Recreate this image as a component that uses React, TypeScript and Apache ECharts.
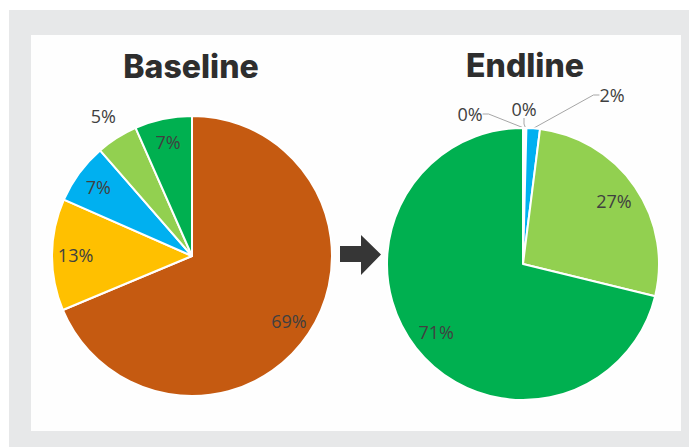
import React, { useEffect, useRef } from "react";
import * as echarts from "echarts";

const categories = ["Orange", "Yellow", "Blue", "Light green", "Green"];
const colors = ["#C55A11", "#FFC000", "#00B0F0", "#92D050", "#00B050"];
const baselineValues = [68.7, 12.9, 7.0, 4.8, 6.6];
const endlineValues = [0.2, 0.2, 1.6, 26.8, 71.2];
const titles = ["Baseline", "Endline"];

const W = 694;
const H = 447;
const BASE_C = [192, 256];
const BASE_R = 140;
const END_C = [523, 264];
const END_R = 136;

const LABEL_FONT = { fontFamily: "Open Sans", fontSize: 18, color: "#404040" };
const pct = (p: any) => Math.round(p.value) + "%";

function buildData(values: number[], showIdx: number[] | null) {
  return values.map((v, i) => ({
    name: categories[i],
    value: v,
    itemStyle: { color: colors[i] },
    label: { show: showIdx ? showIdx.includes(i) : false },
    labelLine: { show: showIdx ? showIdx.includes(i) : false },
  }));
}

function labelPie(center: number[], r0: number, r1: number, values: number[], showIdx: number[]) {
  return {
    type: "pie",
    center,
    radius: [r0, r1],
    startAngle: 90,
    clockwise: true,
    silent: true,
    avoidLabelOverlap: false,
    itemStyle: { color: "transparent", borderWidth: 0 },
    label: { show: true, position: "inside", formatter: pct, ...LABEL_FONT },
    labelLine: { show: false },
    emphasis: { disabled: true },
    data: values.map((v, i) => ({
      name: categories[i],
      value: v,
      itemStyle: { color: "transparent" },
      label: { show: showIdx.includes(i) },
    })),
  };
}

// outer label offsets for the tiny Endline slices (relative to the pie centre)
const endOuterOffsets: Record<number, number[]> = {
  0: [-53, -150],
  1: [1, -155],
  2: [89, -169],
};

export default function App() {
  const ref = useRef<HTMLDivElement>(null);
  useEffect(() => {
    if (!ref.current) return;
    const chart = echarts.init(ref.current, null, { renderer: "svg" });
    chart.setOption({
      animation: false,
      backgroundColor: "#ffffff",
      graphic: [
        { type: "rect", z: -10, shape: { x: 9, y: 10, width: 680, height: 437 }, style: { fill: "#E7E8E9" } },
        { type: "rect", z: -9, shape: { x: 31, y: 35, width: 650, height: 396 }, style: { fill: "#FEFEFE" } },
        {
          type: "polygon",
          shape: {
            points: [
              [340, 246], [361, 246], [361, 235], [381, 254.5], [361, 275], [361, 262], [340, 262],
            ],
          },
          style: { fill: "#363636" },
        },
        {
          type: "text",
          x: 191,
          y: 66,
          style: {
            text: titles[0], fill: "#2E2E2E", fontFamily: "Inter", fontWeight: 800, fontSize: 32,
            align: "center", verticalAlign: "middle",
          },
        },
        {
          type: "text",
          x: 525,
          y: 65,
          style: {
            text: titles[1], fill: "#2E2E2E", fontFamily: "Inter", fontWeight: 800, fontSize: 32,
            align: "center", verticalAlign: "middle",
          },
        },
      ],
      series: [
        {
          type: "pie",
          center: BASE_C,
          radius: [0, BASE_R],
          startAngle: 90,
          clockwise: true,
          silent: true,
          itemStyle: { borderColor: "#ffffff", borderWidth: 2 },
          label: { show: false },
          labelLine: { show: false },
          data: buildData(baselineValues, null),
        },
        labelPie(BASE_C, BASE_R * 0.62, BASE_R, baselineValues, [0, 1, 2, 4]),
        labelPie(BASE_C, BASE_R, BASE_R * 1.32, baselineValues, [3]),
        {
          type: "pie",
          center: END_C,
          radius: [0, END_R],
          startAngle: 90,
          clockwise: true,
          silent: true,
          avoidLabelOverlap: false,
          itemStyle: { borderColor: "#ffffff", borderWidth: 2 },
          label: { show: true, position: "outside", formatter: pct, ...LABEL_FONT },
          labelLine: { show: true, length: 8, length2: 6, lineStyle: { color: "#A6A6A6", width: 1 } },
          labelLayout: (p: any) => {
            const o = endOuterOffsets[p.dataIndex];
            if (!o) return {};
            return { x: END_C[0] + o[0], y: END_C[1] + o[1], align: "center", verticalAlign: "middle" };
          },
          data: buildData(endlineValues, [0, 1, 2]),
        },
        labelPie(END_C, END_R * 0.58, END_R, endlineValues, [3, 4]),
      ],
    });
    return () => chart.dispose();
  }, []);
  return <div ref={ref} style={{ position: "absolute", left: 0, top: 0, width: W, height: H }} />;
}
